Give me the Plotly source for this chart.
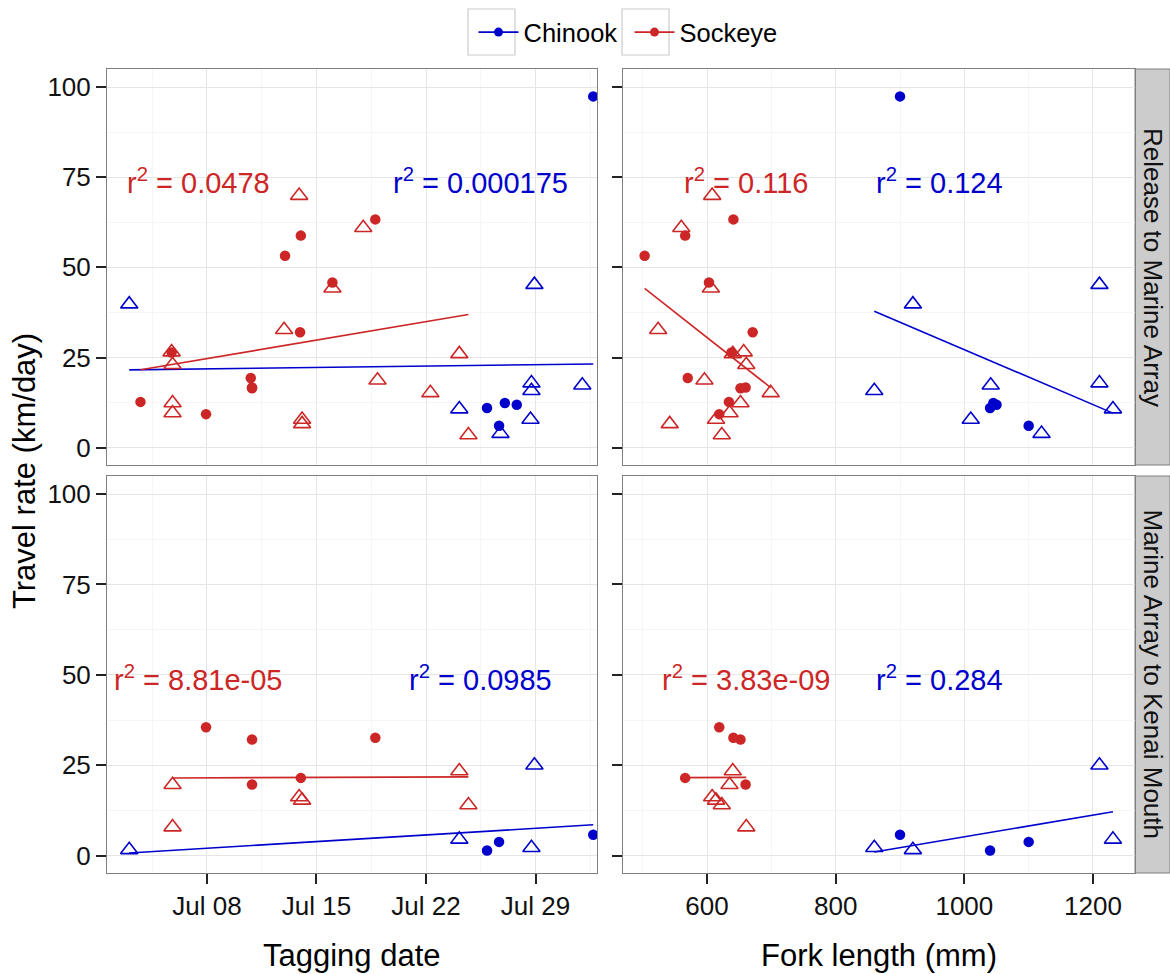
import numpy as np
import pandas as pd
import plotly.graph_objects as go

# ---------------- data ----------------
# tagging day expressed as day-of-July (fractional), fork length in mm
chinook_tag_day = [3.03, 32.69, 28.93, 28.74, 28.74, 31.99, 28.68, 24.13, 25.90, 27.04, 27.80, 26.67, 26.76]
chinook_fork_length = [920, 900, 1210, 1210, 860, 1041, 1010, 1231, 1040, 1045, 1050, 1100, 1120]
chinook_group = ["open", "filled", "open", "open", "open", "open", "open", "open",
                 "filled", "filled", "filled", "filled", "open"]
chinook_rate_release_marine = [39.8, 97.4, 45.2, 17.9, 15.8, 17.3, 7.8, 10.7, 11.0, 12.4, 11.9, 6.1, 3.9]
chinook_rate_marine_kenai = [1.6, 5.8, 25.0, None, 2.2, None, None, 4.5, 1.4, None, None, 3.8, None]

sockeye_tag_day = [3.75, 5.74, 7.94, 10.80, 10.88, 10.88, 12.99, 14.00, 13.95, 16.02, 18.76,
                   5.74, 5.80, 5.80, 5.80, 12.93, 13.89, 14.08, 14.08, 16.02, 17.99, 18.90, 22.28, 24.13, 24.71]
sockeye_fork_length = [634, 638, 619, 570, 652, 660, 503, 566, 671, 603, 641,
                       657, 661, 652, 635, 524, 608, 614, 542, 606, 560, 596, 699, 640, 623]
sockeye_group = ["filled"] * 11 + ["open"] * 14
sockeye_rate_release_marine = [12.7, 26.4, 9.3, 19.3, 16.5, 16.7, 53.2, 58.8, 32.0, 45.8, 63.3,
                               26.5, 23.0, 12.4, 9.6, 32.7, 69.9, 7.8, 6.6, 44.2, 61.0, 18.7, 15.2, 26.0, 3.5]
sockeye_rate_marine_kenai = [None, None, 35.5, None, 32.1, 19.7, None, 21.5, None, None, 32.6,
                             None, 7.9, None, 19.6, None, 16.2, 15.3, None, None, None, None, None, 23.4, 14.0]

r2_labels = {
    ("day", "release", "Sockeye"): "0.0478",
    ("day", "release", "Chinook"): "0.000175",
    ("fl", "release", "Sockeye"): "0.116",
    ("fl", "release", "Chinook"): "0.124",
    ("day", "kenai", "Sockeye"): "8.81e-05",
    ("day", "kenai", "Chinook"): "0.0985",
    ("fl", "kenai", "Sockeye"): "3.83e-09",
    ("fl", "kenai", "Chinook"): "0.284",
}
strip_labels = ["Release to Marine Array", "Marine Array to Kenai Mouth"]
x_titles = ["Tagging date", "Fork length (mm)"]
y_title = "Travel rate (km/day)"

# ---------------- styling ----------------
FONT = "Liberation Sans, Arial, sans-serif"
COL = {"Chinook": "#0000CD", "Sockeye": "#CD2626"}
W, H = 1170, 974
BASE = pd.Timestamp("2014-07-01")


def to_date(days):
    return BASE + pd.to_timedelta(np.asarray(days, dtype=float) - 1.0, unit="D")


species = {
    "Chinook": dict(day=chinook_tag_day, fl=chinook_fork_length, grp=chinook_group,
                    release=chinook_rate_release_marine, kenai=chinook_rate_marine_kenai),
    "Sockeye": dict(day=sockeye_tag_day, fl=sockeye_fork_length, grp=sockeye_group,
                    release=sockeye_rate_release_marine, kenai=sockeye_rate_marine_kenai),
}

# panel pixel boxes -> paper domains
xl = [107 / W, 597 / W]
xr = [622.5 / W, 1135 / W]
yt = [1 - 465 / H, 1 - 69 / H]
yb = [1 - 873 / H, 1 - 476 / H]

panels = [
    dict(n=1, xk="day", yk="release", xd=xl, yd=yt),
    dict(n=2, xk="fl", yk="release", xd=xr, yd=yt),
    dict(n=3, xk="day", yk="kenai", xd=xl, yd=yb),
    dict(n=4, xk="fl", yk="kenai", xd=xr, yd=yb),
]

fig = go.Figure()

for p in panels:
    xa = "x" if p["n"] == 1 else f"x{p['n']}"
    ya = "y" if p["n"] == 1 else f"y{p['n']}"
    for sp in ["Chinook", "Sockeye"]:
        d = species[sp]
        xs = np.array(d[p["xk"]], dtype=float)
        ys = np.array([np.nan if v is None else v for v in d[p["yk"]]], dtype=float)
        grp = np.array(d["grp"])
        ok = ~np.isnan(ys)
        # regression line (lm) over the observed range
        xo, yo = xs[ok], ys[ok]
        slope, icpt = np.polyfit(xo, yo, 1)
        lx = np.array([xo.min(), xo.max()])
        ly = icpt + slope * lx
        fig.add_trace(go.Scatter(
            x=to_date(lx) if p["xk"] == "day" else lx, y=ly, mode="lines",
            line=dict(color=COL[sp], width=1.6), xaxis=xa, yaxis=ya,
            showlegend=False, hoverinfo="skip"))
        for g, sym, size in [("filled", "circle", 10.5), ("open", "triangle-up-open", 15)]:
            m = ok & (grp == g)
            xv = xs[m]
            fig.add_trace(go.Scatter(
                x=to_date(xv) if p["xk"] == "day" else xv, y=ys[m], mode="markers",
                marker=dict(symbol=sym, size=size, color=COL[sp],
                            line=dict(color=COL[sp], width=1.6 if g == "open" else 0)),
                xaxis=xa, yaxis=ya, showlegend=False, name=sp))

# legend entries
for sp in ["Chinook", "Sockeye"]:
    fig.add_trace(go.Scatter(x=[None], y=[None], mode="lines+markers", name=sp,
                             marker=dict(symbol="circle", size=9, color=COL[sp]),
                             line=dict(color=COL[sp], width=1.6), showlegend=True))

tickfont = dict(family=FONT, size=26, color="#111111")
common = dict(showline=True, linecolor="#7f7f7f", linewidth=1, mirror=True,
              showgrid=True, gridcolor="#e5e5e5", gridwidth=1, zeroline=False,
              ticks="outside", ticklen=10, tickwidth=1.6, tickcolor="#222222",
              tickfont=tickfont)

day_range = [to_date([1.61])[0], to_date([32.93])[0]]
fl_range = [468.6, 1265.3]
y_range = [-4.8, 105.0]

layout = dict(width=W, height=H, margin=dict(l=0, r=0, t=0, b=0),
              paper_bgcolor="white", plot_bgcolor="white",
              font=dict(family=FONT, color="#000000"))

for p in panels:
    n = p["n"]
    xname = "xaxis" if n == 1 else f"xaxis{n}"
    yname = "yaxis" if n == 1 else f"yaxis{n}"
    anchor_y = "y" if n == 1 else f"y{n}"
    anchor_x = "x" if n == 1 else f"x{n}"
    bottom = n in (3, 4)
    left = n in (1, 3)
    if p["xk"] == "day":
        xax = dict(common, type="date", range=day_range, domain=p["xd"], anchor=anchor_y,
                   tick0="2014-07-01", dtick=7 * 86400000, tickformat="%b %d",
                   minor=dict(tick0="2014-07-01", dtick=3.5 * 86400000, showgrid=True,
                              gridcolor="#f5f5f5", ticks=""))
    else:
        xax = dict(common, range=fl_range, domain=p["xd"], anchor=anchor_y,
                   tick0=0, dtick=200,
                   minor=dict(tick0=0, dtick=100, showgrid=True, gridcolor="#f5f5f5", ticks=""))
    if not bottom:
        xax.update(showticklabels=False, ticks="")
    yax = dict(common, range=y_range, domain=p["yd"], anchor=anchor_x,
               tick0=0, dtick=25,
               minor=dict(tick0=0, dtick=12.5, showgrid=True, gridcolor="#f5f5f5", ticks=""))
    if not left:
        yax.update(showticklabels=False)
    layout[xname] = xax
    layout[yname] = yax

layout["legend"] = dict(orientation="h", x=629.5 / W, xanchor="center", y=1 - 9 / H, yanchor="top",
                        font=dict(family=FONT, size=25.5, color="#000000"),
                        bgcolor="rgba(0,0,0,0)", itemwidth=40, tracegroupgap=0,
                        entrywidth=101, entrywidthmode="pixels")

fig.update_layout(**layout)

# legend key boxes (ggplot-style key background)
for x0 in (468, 622):
    fig.add_shape(type="rect", xref="paper", yref="paper", x0=x0 / W, x1=(x0 + 47) / W,
                  y0=1 - 55 / H, y1=1 - 9 / H, fillcolor="white",
                  line=dict(color="#cccccc", width=1.2), layer="below")

# r^2 annotations
ann_pos = {
    ("day", "Sockeye"): 7.49, ("day", "Chinook"): 25.5,
    ("fl", "Sockeye"): 660.6, ("fl", "Chinook"): 962.0,
}
ann_y = {"release": 74.0, "kenai": 49.0}
for p in panels:
    n = p["n"]
    xa = "x" if n == 1 else f"x{n}"
    ya = "y" if n == 1 else f"y{n}"
    for sp in ["Sockeye", "Chinook"]:
        xv = ann_pos[(p["xk"], sp)]
        if p["xk"] == "day":
            xv = to_date([xv])[0]
        fig.add_annotation(x=xv, y=ann_y[p["yk"]], xref=xa, yref=ya,
                           text="r<sup>2</sup> = " + r2_labels[(p["xk"], p["yk"], sp)],
                           showarrow=False, xanchor="center", yanchor="middle",
                           font=dict(family=FONT, size=29, color=COL[sp]))

# strips
for lab, yd in zip(strip_labels, [yt, yb]):
    fig.add_shape(type="rect", xref="paper", yref="paper", x0=1135 / W, x1=1.0,
                  y0=yd[0], y1=yd[1], fillcolor="#cccccc", line=dict(color="#7f7f7f", width=1),
                  layer="below")
    fig.add_annotation(x=1153 / W, y=(yd[0] + yd[1]) / 2, xref="paper", yref="paper",
                       text=lab, textangle=90, showarrow=False,
                       xanchor="center", yanchor="middle",
                       font=dict(family=FONT, size=26, color="#111111"))

# axis titles
for txt, xc in zip(x_titles, [352, 879]):
    fig.add_annotation(x=xc / W, y=1 - 955 / H, xref="paper", yref="paper", text=txt,
                       showarrow=False, xanchor="center", yanchor="middle",
                       font=dict(family=FONT, size=31, color="#000000"))
fig.add_annotation(x=24 / W, y=1 - 471 / H, xref="paper", yref="paper", text=y_title,
                   textangle=-90, showarrow=False, xanchor="center", yanchor="middle",
                   font=dict(family=FONT, size=31, color="#000000"))

fig.write_html("out.html")
